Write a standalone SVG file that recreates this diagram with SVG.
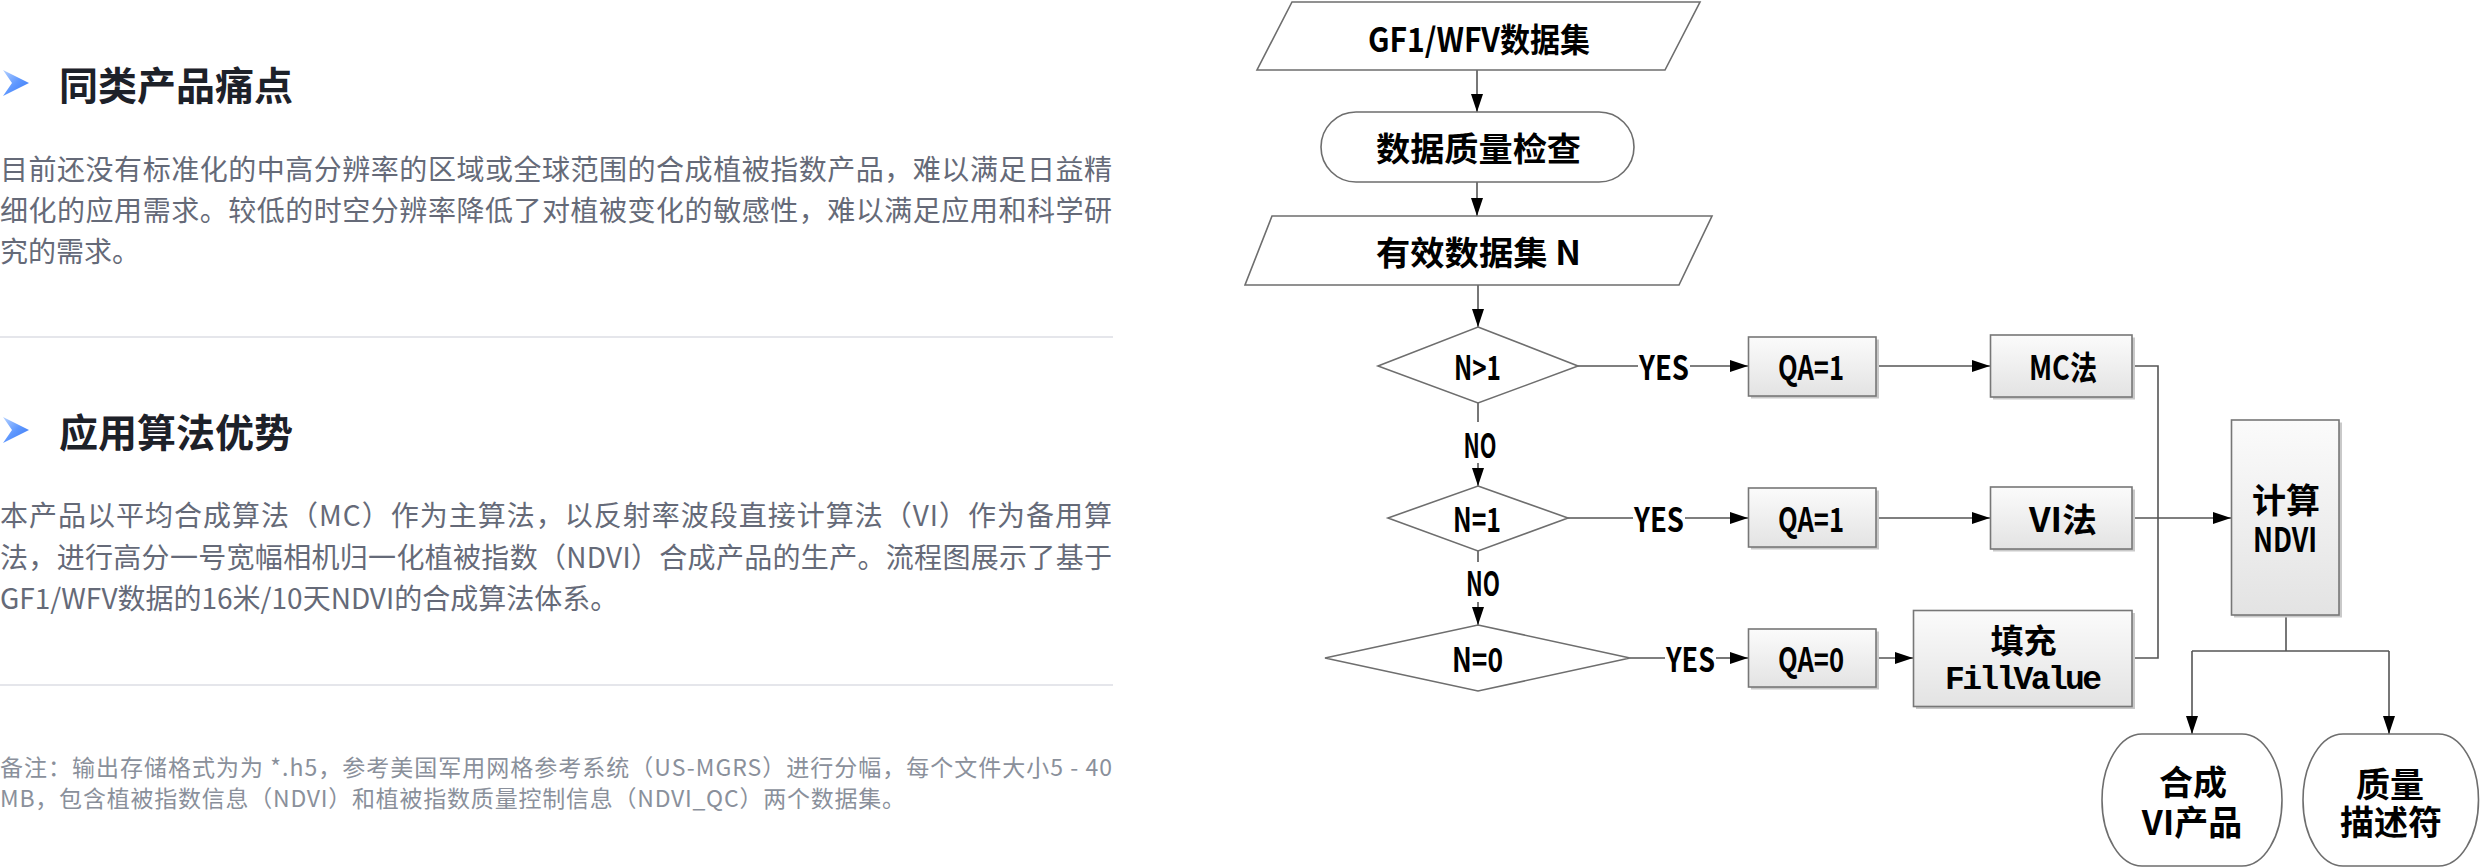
<svg xmlns="http://www.w3.org/2000/svg" width="2480" height="868" viewBox="0 0 2480 868">
<style>
.h{font-family:"Noto Sans CJK SC","Noto Sans",sans-serif;font-weight:700;font-size:39px;fill:#1d2129;dominant-baseline:central}
.b{font-family:"Noto Sans CJK SC","Noto Sans",sans-serif;font-size:28px;fill:#656a78;dominant-baseline:central}
.n{font-family:"Noto Sans CJK SC","Noto Sans",sans-serif;font-size:23px;fill:#8a909b;dominant-baseline:central}
.div{stroke:#e5e6eb;stroke-width:2}
.t{font-family:"Noto Sans CJK SC","Noto Sans",sans-serif;font-weight:700;font-size:33px;fill:#000;text-anchor:middle;dominant-baseline:central}
.shape{fill:#fff;stroke:#6e6e6e;stroke-width:1.6}
.box{fill:url(#bg);stroke:#777;stroke-width:1.6}
.sh{fill:#c9c9c9}
.c{fill:none;stroke:#555;stroke-width:1.6}
.a{marker-end:url(#ar)}
</style>
<defs>
<linearGradient id="bg" x1="0" y1="0" x2="0" y2="1">
<stop offset="0" stop-color="#fbfbfb"/>
<stop offset="1" stop-color="#e3e3e3"/>
</linearGradient>
<linearGradient id="ic" x1="0" y1="0" x2="1" y2="1">
<stop offset="0" stop-color="#b6d2ff"/>
<stop offset="0.5" stop-color="#5f98ff"/>
<stop offset="1" stop-color="#3a78f2"/>
</linearGradient>
<marker id="ar" markerWidth="18" markerHeight="12" refX="18" refY="6" orient="auto" markerUnits="userSpaceOnUse">
<path d="M0,0 L18,6 L0,12 z" fill="#000"/>
</marker>
</defs>

<g id="section1">
<polygon points="3,70 29,83 3,96 12,83" fill="url(#ic)"/>
<text class="h" x="59" y="83">同类产品痛点</text>
<text class="b" x="0" y="167.5" textLength="1112" lengthAdjust="spacing">目前还没有标准化的中高分辨率的区域或全球范围的合成植被指数产品，难以满足日益精</text>
<text class="b" x="0" y="209" textLength="1112" lengthAdjust="spacing">细化的应用需求。较低的时空分辨率降低了对植被变化的敏感性，难以满足应用和科学研</text>
<text class="b" x="0" y="250">究的需求。</text>
<line class="div" x1="0" y1="337" x2="1113" y2="337"/>
</g>

<g id="section2">
<polygon points="3,417 29,430 3,443 12,430" fill="url(#ic)"/>
<text class="h" x="59" y="430">应用算法优势</text>
<text class="b" x="0" y="514" textLength="1112" lengthAdjust="spacing">本产品以平均合成算法（MC）作为主算法，以反射率波段直接计算法（VI）作为备用算</text>
<text class="b" x="0" y="556" textLength="1112" lengthAdjust="spacing">法，进行高分一号宽幅相机归一化植被指数（NDVI）合成产品的生产。流程图展示了基于</text>
<text class="b" x="0" y="597">GF1/WFV数据的16米/10天NDVI的合成算法体系。</text>
<line class="div" x1="0" y1="685" x2="1113" y2="685"/>
</g>

<g id="note">
<text class="n" x="0" y="766" textLength="1112" lengthAdjust="spacing" xml:space="preserve">备注：输出存储格式为为 *.h5，参考美国军用网格参考系统（US-MGRS）进行分幅，每个文件大小5 - 40</text>
<text class="n" x="0" y="797" textLength="905" lengthAdjust="spacing">MB，包含植被指数信息（NDVI）和植被指数质量控制信息（NDVI_QC）两个数据集。</text>
</g>

<g id="connectors">
<line class="c a" x1="1477" y1="70" x2="1477" y2="112"/>
<line class="c a" x1="1477" y1="182" x2="1477" y2="216"/>
<line class="c a" x1="1478" y1="285" x2="1478" y2="327"/>
<line class="c" x1="1578" y1="366" x2="1638" y2="366"/>
<line class="c a" x1="1690" y1="366" x2="1748" y2="366"/>
<line class="c a" x1="1876" y1="366" x2="1990" y2="366"/>
<line class="c" x1="1478" y1="403" x2="1478" y2="422"/>
<line class="c a" x1="1478" y1="463" x2="1478" y2="486"/>
<line class="c" x1="1568" y1="518" x2="1633" y2="518"/>
<line class="c a" x1="1685" y1="518" x2="1748" y2="518"/>
<line class="c a" x1="1876" y1="518" x2="1990" y2="518"/>
<line class="c" x1="1478" y1="551" x2="1478" y2="562"/>
<line class="c a" x1="1478" y1="602" x2="1478" y2="625"/>
<line class="c" x1="1630" y1="658" x2="1665" y2="658"/>
<line class="c a" x1="1716" y1="658" x2="1748" y2="658"/>
<line class="c a" x1="1876" y1="658" x2="1913" y2="658"/>
<polyline class="c" points="2132,366 2158,366 2158,658 2132,658"/>
<line class="c a" x1="2132" y1="518" x2="2231" y2="518"/>
<line class="c" x1="2286" y1="615" x2="2286" y2="651"/>
<line class="c" x1="2192" y1="651" x2="2389" y2="651"/>
<line class="c a" x1="2192" y1="651" x2="2192" y2="734"/>
<line class="c a" x1="2389" y1="651" x2="2389" y2="734"/>
<text class="t" x="1664" y="366" textLength="50" lengthAdjust="spacingAndGlyphs">YES</text>
<text class="t" x="1659" y="518" textLength="50" lengthAdjust="spacingAndGlyphs">YES</text>
<text class="t" x="1690.5" y="658" textLength="49" lengthAdjust="spacingAndGlyphs">YES</text>
<text class="t" x="1480" y="444" textLength="33" lengthAdjust="spacingAndGlyphs">NO</text>
<text class="t" x="1483" y="582" textLength="34" lengthAdjust="spacingAndGlyphs">NO</text>
</g>

<g id="n-gf1">
<polygon class="shape" points="1292,2 1700,2 1665,70 1257,70"/>
<text class="t" x="1479" y="38" textLength="222" lengthAdjust="spacingAndGlyphs">GF1/WFV数据集</text>
</g>
<g id="n-check">
<rect class="shape" x="1321" y="112" width="313" height="70" rx="35" ry="35"/>
<text class="t" x="1478.5" y="147" textLength="205" lengthAdjust="spacingAndGlyphs">数据质量检查</text>
</g>
<g id="n-valid">
<polygon class="shape" points="1272,216 1712,216 1679,285 1245,285"/>
<text class="t" x="1478.5" y="251" textLength="205" lengthAdjust="spacingAndGlyphs" xml:space="preserve">有效数据集 N</text>
</g>
<g id="n-d1">
<polygon class="shape" points="1478,327 1578,366 1478,403 1378,366"/>
<text class="t" x="1477.5" y="366" textLength="47" lengthAdjust="spacingAndGlyphs">N&gt;1</text>
</g>
<g id="n-d2">
<polygon class="shape" points="1478,486 1568,518 1478,551 1388,518"/>
<text class="t" x="1477" y="518" textLength="48" lengthAdjust="spacingAndGlyphs">N=1</text>
</g>
<g id="n-d3">
<polygon class="shape" points="1478,625 1630,658 1478,691 1325,658"/>
<text class="t" x="1477.5" y="658" textLength="51" lengthAdjust="spacingAndGlyphs">N=0</text>
</g>
<g id="n-qa1">
<rect class="sh" x="1751" y="339.5" width="128" height="59"/>
<rect class="box" x="1748.5" y="337" width="127.5" height="59"/>
<text class="t" x="1811" y="366" textLength="66" lengthAdjust="spacingAndGlyphs">QA=1</text>
</g>
<g id="n-qa2">
<rect class="sh" x="1751" y="490.5" width="128" height="59"/>
<rect class="box" x="1748.5" y="488" width="127.5" height="59"/>
<text class="t" x="1811" y="518" textLength="66" lengthAdjust="spacingAndGlyphs">QA=1</text>
</g>
<g id="n-qa0">
<rect class="sh" x="1751" y="631.5" width="128" height="58"/>
<rect class="box" x="1748.5" y="629" width="127.5" height="58"/>
<text class="t" x="1811" y="658" textLength="66" lengthAdjust="spacingAndGlyphs">QA=0</text>
</g>
<g id="n-mc">
<rect class="sh" x="1993" y="337.5" width="142" height="62"/>
<rect class="box" x="1990.5" y="335" width="141.5" height="62"/>
<text class="t" x="2063" y="366" textLength="68" lengthAdjust="spacingAndGlyphs">MC法</text>
</g>
<g id="n-vi">
<rect class="sh" x="1993" y="489.5" width="142" height="62"/>
<rect class="box" x="1990.5" y="487" width="141.5" height="62"/>
<text class="t" x="2063" y="518" textLength="68" lengthAdjust="spacingAndGlyphs">VI法</text>
</g>
<g id="n-fill">
<rect class="sh" x="1916" y="613" width="219" height="96"/>
<rect class="box" x="1913.5" y="610.5" width="218.5" height="96"/>
<text class="t"><tspan x="2023.5" y="639">填充</tspan><tspan x="2023.5" y="680" textLength="157" lengthAdjust="spacing" style="font-family:'Liberation Mono','Noto Sans CJK SC',monospace">FillValue</tspan></text>
</g>
<g id="n-ndvi">
<rect class="sh" x="2234" y="422.5" width="108" height="195"/>
<rect class="box" x="2231.5" y="420" width="107.5" height="195"/>
<text class="t" style="font-size:34px"><tspan x="2286" y="497.5">计算</tspan><tspan x="2285" y="537" textLength="64" lengthAdjust="spacingAndGlyphs">NDVI</tspan></text>
</g>
<g id="n-prod">
<rect class="shape" x="2102" y="734" width="180" height="132" rx="40" ry="66"/>
<text class="t" style="font-size:34px"><tspan x="2193" y="780">合成</tspan><tspan x="2192" y="820">VI产品</tspan></text>
</g>
<g id="n-qual">
<rect class="shape" x="2303" y="734" width="175.5" height="132" rx="40" ry="66"/>
<text class="t" style="font-size:34px"><tspan x="2390" y="782">质量</tspan><tspan x="2391" y="820">描述符</tspan></text>
</g>
</svg>
